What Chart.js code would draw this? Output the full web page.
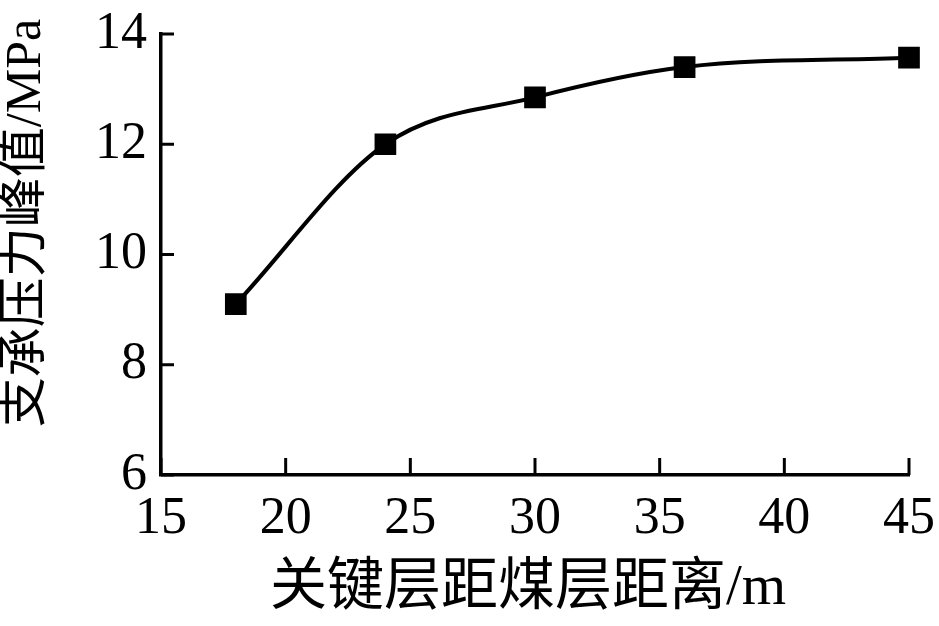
<!DOCTYPE html>
<html>
<head>
<meta charset="utf-8">
<script src="https://cdn.jsdelivr.net/npm/chart.js@4.4.1/dist/chart.umd.min.js"></script>
<style>
  html, body { margin: 0; padding: 0; background: #fff; }
  #wrap { width: 939px; height: 626px; position: relative; }
</style>
</head>
<body>
<div id="wrap"><canvas id="c"></canvas></div>
<script>
// 关键层距煤层距离 (m) et pic de pression d'appui (MPa)
const distances = [18, 24, 30, 36, 45];
const peakStress = [9.1, 12.0, 12.85, 13.4, 13.57];
const xTicks = [15, 20, 25, 30, 35, 40, 45];
const yTicks = [6, 8, 10, 12, 14];
const xTitle = '关键层距煤层距离/m';
const yTitle = '支承压力峰值/MPa';

const FONT = '"Liberation Serif", "Times New Roman", "Noto Sans CJK SC", serif';

// ticks vers l'intérieur + titres d'axes placés à la main
const innerTicks = {
  id: 'innerTicks',
  afterDraw(chart) {
    const { ctx, scales: { x, y } } = chart;
    ctx.save();
    ctx.strokeStyle = '#000';
    ctx.lineWidth = 3;
    ctx.lineCap = 'butt';
    xTicks.forEach(v => {
      const px = x.getPixelForValue(v);
      ctx.beginPath();
      ctx.moveTo(px, x.top);
      ctx.lineTo(px, x.top - 17);
      ctx.stroke();
    });
    yTicks.forEach(v => {
      const py = y.getPixelForValue(v);
      ctx.beginPath();
      ctx.moveTo(y.right, py);
      ctx.lineTo(y.right + 13, py);
      ctx.stroke();
    });

    ctx.fillStyle = '#000';
    ctx.textAlign = 'center';
    ctx.textBaseline = 'middle';
    ctx.font = '57px ' + FONT;
    ctx.fillText(xTitle, 528, 589);

    ctx.translate(27, 223);
    ctx.rotate(-Math.PI / 2);
    ctx.font = '50px ' + FONT;
    ctx.fillText(yTitle, 0, 0);
    ctx.restore();
  }
};

new Chart(document.getElementById('c'), {
  type: 'line',
  data: {
    datasets: [{
      data: distances.map((d, i) => ({ x: d, y: peakStress[i] })),
      borderColor: '#000',
      backgroundColor: '#000',
      borderWidth: 4,
      cubicInterpolationMode: 'monotone',
      pointStyle: 'rect',
      pointRadius: 12.5,
      pointHoverRadius: 12.5,
      clip: false,
    }],
  },
  options: {
    responsive: true,
    maintainAspectRatio: false,
    animation: false,
    devicePixelRatio: 1,
    layout: { padding: { top: 34, right: 30, left: 0, bottom: 0 } },
    plugins: { legend: { display: false }, tooltip: { enabled: false } },
    scales: {
      x: {
        type: 'linear',
        min: 15,
        max: 45,
        afterFit: (s) => { s.height = 151; s.paddingLeft = 0; s.paddingRight = 0; },
        afterBuildTicks: (s) => { s.ticks = xTicks.map(v => ({ value: v })); },
        grid: { display: false, drawTicks: false },
        border: { display: true, color: '#000', width: 3.5 },
        ticks: { color: '#000', padding: 13, maxRotation: 0, font: { family: FONT, size: 52 } },
      },
      y: {
        min: 6,
        max: 14,
        afterFit: (s) => { s.width = 161; s.paddingTop = 0; s.paddingBottom = 0; },
        afterBuildTicks: (s) => { s.ticks = yTicks.map(v => ({ value: v })); },
        grid: { display: false, drawTicks: false },
        border: { display: true, color: '#000', width: 3.5 },
        ticks: { color: '#000', padding: 14, font: { family: FONT, size: 52 } },
      },
    },
  },
  plugins: [innerTicks],
});
</script>
</body>
</html>
